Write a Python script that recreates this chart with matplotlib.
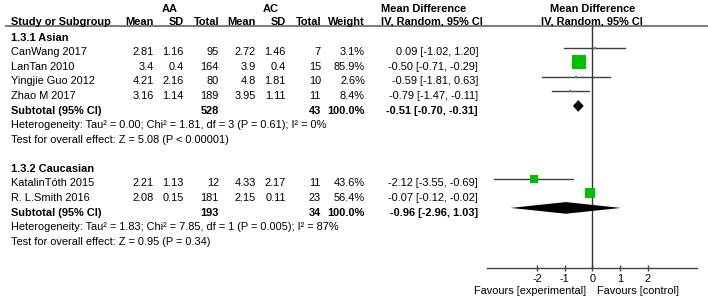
import numpy as np
import matplotlib
matplotlib.use("Agg")
import matplotlib.pyplot as plt

plt.rcParams['font.family'] = ['Liberation Sans', 'DejaVu Sans']
FS = 7.9

# Study data
study = ["CanWang 2017", "LanTan 2010", "Yingjie Guo 2012", "Zhao M 2017",
         "KatalinTóth 2015", "R. L.Smith 2016"]
group = [0, 0, 0, 0, 1, 1]
group_names = ["1.3.1 Asian", "1.3.2 Caucasian"]
aa_mean = [2.81, 3.4, 4.21, 3.16, 2.21, 2.08]
aa_sd = [1.16, 0.4, 2.16, 1.14, 1.13, 0.15]
aa_n = [95, 164, 80, 189, 12, 181]
ac_mean = [2.72, 3.9, 4.8, 3.95, 4.33, 2.15]
ac_sd = [1.46, 0.4, 1.81, 1.11, 2.17, 0.11]
ac_n = [7, 15, 10, 11, 11, 23]
weight = [3.1, 85.9, 2.6, 8.4, 43.6, 56.4]
md = [0.09, -0.50, -0.59, -0.79, -2.12, -0.07]
md_lo = [-1.02, -0.71, -1.81, -1.47, -3.55, -0.12]
md_hi = [1.20, -0.29, 0.63, -0.11, -0.69, -0.02]

# Subtotals
sub_aa_n = [528, 193]
sub_ac_n = [43, 34]
sub_md = [-0.51, -0.96]
sub_lo = [-0.70, -2.96]
sub_hi = [-0.31, 1.03]
het_text = ["Heterogeneity: Tau² = 0.00; Chi² = 1.81, df = 3 (P = 0.61); I² = 0%",
            "Heterogeneity: Tau² = 1.83; Chi² = 7.85, df = 1 (P = 0.005); I² = 87%"]
test_text = ["Test for overall effect: Z = 5.08 (P < 0.00001)",
             "Test for overall effect: Z = 0.95 (P = 0.34)"]

ticks = [-2, -1, 0, 1, 2]

# layout (pixels, rows)
W, H = 708, 300
Y0, PITCH = 8.6, 14.57


def row_of(px):
    return (px - Y0) / PITCH


fig = plt.figure(figsize=(W / 100, H / 100), dpi=100)
tab = fig.add_axes([0, 0, 1, 1])
tab.set_xlim(0, W)
tab.set_ylim(row_of(H), row_of(0))
tab.axis('off')

# forest axes: zero at 592.3 px, 27.6 px per unit
x0, unit = 592.3, 27.6
xl = (-3.8, 3.8)
top_px, axis_px = 26, 267.5
fx = fig.add_axes([(x0 + xl[0] * unit) / W, 1 - axis_px / H,
                   (xl[1] - xl[0]) * unit / W, (axis_px - top_px) / H])
fx.set_xlim(*xl)
fx.set_ylim(row_of(axis_px), row_of(top_px))
fx.patch.set_alpha(0)
for s in ['left', 'right', 'top']:
    fx.spines[s].set_visible(False)
fx.spines['bottom'].set_color('#444444')
fx.spines['bottom'].set_linewidth(1.0)
fx.set_yticks([])
fx.set_xticks(ticks)
fx.set_xticklabels([str(t) for t in ticks])
fx.tick_params(axis='x', direction='inout', length=5, width=1, color='#444444',
               labelsize=FS, pad=2)
fx.axvline(0, color='#333333', lw=1)

# column right edges
cols = [154, 184, 219, 256, 286, 321, 365]
STUDY_X, MD_X = 11, 478

# header
tab.text(169.5, 0, "AA", ha='center', va='center', fontsize=FS, fontweight='bold')
tab.text(270.5, 0, "AC", ha='center', va='center', fontsize=FS, fontweight='bold')
tab.text(381, 0, "Mean Difference", ha='left', va='center', fontsize=FS, fontweight='bold')
tab.text(x0, 0, "Mean Difference", ha='center', va='center', fontsize=FS, fontweight='bold')
heads = ["Mean", "SD", "Total", "Mean", "SD", "Total", "Weight"]
tab.text(STUDY_X, 0.9, "Study or Subgroup", ha='left', va='center', fontsize=FS, fontweight='bold')
for cx, h in zip(cols, heads):
    tab.text(cx, 0.9, h, ha='right', va='center', fontsize=FS, fontweight='bold')
tab.text(381, 0.9, "IV, Random, 95% CI", ha='left', va='center', fontsize=FS, fontweight='bold')
tab.text(x0, 0.9, "IV, Random, 95% CI", ha='center', va='center', fontsize=FS, fontweight='bold')
tab.plot([5, W], [row_of(26)] * 2, color='#666666', lw=1.2, solid_capstyle='butt')

green = '#00c000'
row = 2
for g in range(len(group_names)):
    tab.text(STUDY_X, row, group_names[g], ha='left', va='center', fontsize=FS, fontweight='bold')
    row += 1
    for i in [k for k in range(len(study)) if group[k] == g]:
        vals = [aa_mean[i], aa_sd[i], aa_n[i], ac_mean[i], ac_sd[i], ac_n[i]]
        tab.text(STUDY_X, row, study[i], ha='left', va='center', fontsize=FS)
        for cx, v in zip(cols[:6], vals):
            tab.text(cx, row, str(v), ha='right', va='center', fontsize=FS)
        tab.text(cols[6], row, f"{weight[i]:.1f}%", ha='right', va='center', fontsize=FS)
        tab.text(MD_X, row, f"{md[i]:.2f} [{md_lo[i]:.2f}, {md_hi[i]:.2f}]",
                 ha='right', va='center', fontsize=FS)
        my = row - 0.32
        fx.plot([md_lo[i], md_hi[i]], [my, my], color='#404040', lw=1, zorder=2)
        side = max(0.165 * weight[i], 2.4)
        fx.plot([md[i]], [my], marker='s', ms=side * 0.72, mew=0, color=green, zorder=3)
        row += 1
    tab.text(STUDY_X, row, "Subtotal (95% CI)", ha='left', va='center', fontsize=FS, fontweight='bold')
    tab.text(cols[2], row, str(sub_aa_n[g]), ha='right', va='center', fontsize=FS, fontweight='bold')
    tab.text(cols[5], row, str(sub_ac_n[g]), ha='right', va='center', fontsize=FS, fontweight='bold')
    tab.text(cols[6], row, "100.0%", ha='right', va='center', fontsize=FS, fontweight='bold')
    tab.text(MD_X, row, f"{sub_md[g]:.2f} [{sub_lo[g]:.2f}, {sub_hi[g]:.2f}]",
             ha='right', va='center', fontsize=FS, fontweight='bold')
    dy = row - 0.32
    hh = 0.4
    fx.fill([sub_lo[g], sub_md[g], sub_hi[g], sub_md[g]],
            [dy, dy - hh, dy, dy + hh], color='black', lw=0, zorder=3)
    row += 1
    tab.text(STUDY_X, row, het_text[g], ha='left', va='center', fontsize=FS)
    row += 1
    tab.text(STUDY_X, row, test_text[g], ha='left', va='center', fontsize=FS)
    row += 2

fy = row_of(291)
tab.text(586, fy, "Favours [experimental]", ha='right', va='center', fontsize=FS)
tab.text(597, fy, "Favours [control]", ha='left', va='center', fontsize=FS)

fig.savefig("out.png", dpi=100)
